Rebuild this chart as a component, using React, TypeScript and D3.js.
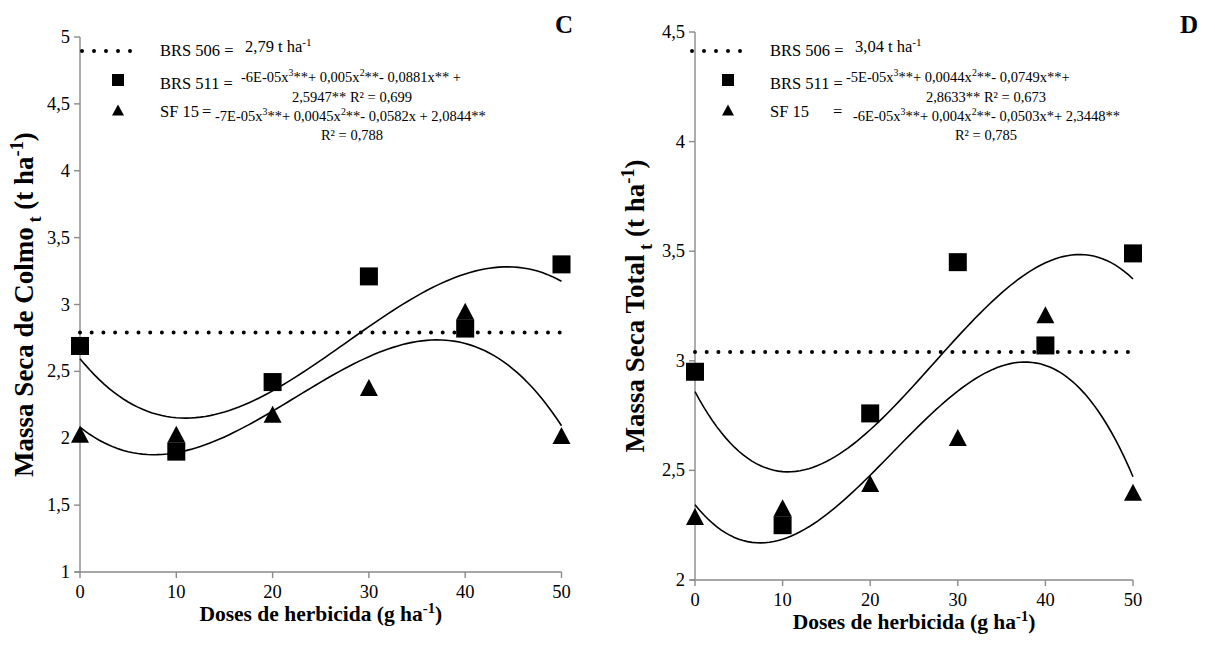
import React from "react";
import * as d3 from "d3";

// Herbicide doses (g ha-1)
const doses = [0, 10, 20, 30, 40, 50];

// Panel C: stalk dry mass (t ha-1)
const colmoBRS511 = [2.69, 1.9, 2.42, 3.21, 2.82, 3.3];
const colmoSF15 = [2.03, 2.03, 2.18, 2.38, 2.95, 2.02];
const colmoBRS506 = 2.79;
const colmoTicks = [1, 1.5, 2, 2.5, 3, 3.5, 4, 4.5, 5];

// Panel D: total dry mass (t ha-1)
const totalBRS511 = [2.95, 2.25, 2.76, 3.45, 3.07, 3.49];
const totalSF15 = [2.29, 2.33, 2.44, 2.65, 3.21, 2.4];
const totalBRS506 = 3.04;
const totalTicks = [2, 2.5, 3, 3.5, 4, 4.5];

const doseTicks = [0, 10, 20, 30, 40, 50];

type Seg = { t: string; sup?: boolean; sub?: boolean };

const colmoLegend = {
  mean: [{ t: "2,79 t ha" }, { t: "-1", sup: true }] as Seg[],
  eq511a: [
    { t: "-6E-05x" }, { t: "3", sup: true }, { t: "**+ 0,005x" }, { t: "2", sup: true },
    { t: "**- 0,0881x** +" },
  ] as Seg[],
  eq511b: [{ t: "2,5947** R² = 0,699" }] as Seg[],
  eqSFa: [
    { t: "-7E-05x" }, { t: "3", sup: true }, { t: "**+ 0,0045x" }, { t: "2", sup: true },
    { t: "**- 0,0582x + 2,0844**" },
  ] as Seg[],
  eqSFb: [{ t: "R² = 0,788" }] as Seg[],
};

const totalLegend = {
  mean: [{ t: "3,04 t ha" }, { t: "-1", sup: true }] as Seg[],
  eq511a: [
    { t: "-5E-05x" }, { t: "3", sup: true }, { t: "**+ 0,0044x" }, { t: "2", sup: true },
    { t: "**- 0,0749x**+" },
  ] as Seg[],
  eq511b: [{ t: "2,8633** R² = 0,673" }] as Seg[],
  eqSFa: [
    { t: "-6E-05x" }, { t: "3", sup: true }, { t: "**+ 0,004x" }, { t: "2", sup: true },
    { t: "**- 0,0503x*+ 2,3448**" },
  ] as Seg[],
  eqSFb: [{ t: "R² = 0,785" }] as Seg[],
};

const FONT = "'Liberation Serif', 'Times New Roman', serif";
const AXIS = "#8a8a8a";

// Least-squares cubic trend line
function cubicFit(xs: number[], ys: number[]): number[] {
  const n = 4;
  const A: number[][] = Array.from({ length: n }, () => new Array(n + 1).fill(0));
  xs.forEach((x, k) => {
    for (let i = 0; i < n; i++) {
      for (let j = 0; j < n; j++) A[i][j] += Math.pow(x, i + j);
      A[i][n] += Math.pow(x, i) * ys[k];
    }
  });
  for (let c = 0; c < n; c++) {
    let p = c;
    for (let r = c + 1; r < n; r++) if (Math.abs(A[r][c]) > Math.abs(A[p][c])) p = r;
    [A[c], A[p]] = [A[p], A[c]];
    for (let r = 0; r < n; r++) {
      if (r === c) continue;
      const f = A[r][c] / A[c][c];
      for (let k = c; k <= n; k++) A[r][k] -= f * A[c][k];
    }
  }
  return A.map((row, i) => row[n] / row[i]);
}

const fmt = (v: number) => String(v).replace(".", ",");

function Rich({ segs, x, y, size, anchor = "start", weight = "normal" }: {
  segs: Seg[]; x: number; y: number; size: number; anchor?: string; weight?: string;
}) {
  const out: React.ReactNode[] = [];
  let shift = 0;
  segs.forEach((s, i) => {
    const target = s.sup ? -0.38 * size : s.sub ? 0.3 * size : 0;
    out.push(
      <tspan key={i} dy={target - shift} fontSize={s.sup || s.sub ? size * 0.68 : size}>
        {s.t}
      </tspan>
    );
    shift = target;
  });
  return (
    <text x={x} y={y} textAnchor={anchor} style={{ fontFamily: FONT }} fontSize={size} fontWeight={weight} fill="#000">
      {out}
    </text>
  );
}

function Square({ cx, cy, s }: { cx: number; cy: number; s: number }) {
  return <rect x={cx - s / 2} y={cy - s / 2} width={s} height={s} fill="#000" />;
}
function Tri({ cx, cy, w, h }: { cx: number; cy: number; w: number; h: number }) {
  return <path d={`M${cx},${cy - h / 2}L${cx + w / 2},${cy + h / 2}L${cx - w / 2},${cy + h / 2}Z`} fill="#000" />;
}

type PanelProps = {
  xr: [number, number];
  yDomain: [number, number];
  yr: [number, number];
  yTicks: number[];
  s511: number[];
  sSF: number[];
  mean: number;
  legend: typeof colmoLegend;
  lx: number; // legend left
  sfEqX: number; // x of the "=" after SF 15
  eqA: number; // x of first equation line
  eqSF: number;
  eqCenter: number;
  letter: string;
  letterX: number;
  yTitle: Seg[];
  yTitleX: number;
  xLabelY: number;
  xTitleY: number;
};

function Panel(p: PanelProps) {
  const x = d3.scaleLinear().domain([0, 50]).range(p.xr);
  const y = d3.scaleLinear().domain(p.yDomain).range(p.yr);
  const grid = d3.range(0, 50.001, 0.5);
  const line = d3.line<number>().x((d) => x(d));
  const curve = (coef: number[]) =>
    line.y((d) => y(coef[0] + coef[1] * d + coef[2] * d * d + coef[3] * d * d * d))(grid) || "";
  const c511 = cubicFit(doses, p.s511);
  const cSF = cubicFit(doses, p.sSF);
  const [y0, y1] = p.yr;
  const lx = p.lx;
  const mx = lx - 42;
  const fs = 16.5;
  const fe = 14.5;
  return (
    <g>
      {/* axes */}
      <line x1={p.xr[0]} x2={p.xr[0]} y1={y0} y2={y1} stroke={AXIS} strokeWidth={1.4} />
      <line x1={p.xr[0] - 5} x2={p.xr[1]} y1={y0} y2={y0} stroke={AXIS} strokeWidth={1.4} />
      {p.yTicks.map((t) => (
        <g key={t}>
          <line x1={p.xr[0] - 6} x2={p.xr[0]} y1={y(t)} y2={y(t)} stroke={AXIS} strokeWidth={1.4} />
          <text x={p.xr[0] - 10} y={y(t) + 6} textAnchor="end" style={{ fontFamily: FONT }} fontSize={18.5}>
            {fmt(t)}
          </text>
        </g>
      ))}
      {doseTicks.map((t) => (
        <g key={t}>
          <line x1={x(t)} x2={x(t)} y1={y0} y2={y0 + 6} stroke={AXIS} strokeWidth={1.4} />
          <text x={x(t)} y={p.xLabelY} textAnchor="middle" style={{ fontFamily: FONT }} fontSize={18.5}>
            {t}
          </text>
        </g>
      ))}
      <Rich
        segs={[{ t: "Doses de herbicida (g ha" }, { t: "-1", sup: true }, { t: ")" }]}
        x={(p.xr[0] + p.xr[1]) / 2}
        y={p.xTitleY}
        size={21.5}
        anchor="middle"
        weight="bold"
      />
      <g transform={`translate(${p.yTitleX},${(y0 + y1) / 2}) rotate(-90)`}>
        <Rich segs={p.yTitle} x={0} y={0} size={27} anchor="middle" weight="bold" />
      </g>
      <text x={p.letterX} y={33} style={{ fontFamily: FONT }} fontSize={25} fontWeight="bold">
        {p.letter}
      </text>

      {/* BRS 506 mean */}
      <line
        x1={x(0)} x2={x(50)} y1={y(p.mean)} y2={y(p.mean)}
        stroke="#000" strokeWidth={4} strokeLinecap="round" strokeDasharray="0 11.7"
      />
      {/* trend lines */}
      <path d={curve(c511)} fill="none" stroke="#000" strokeWidth={1.6} />
      <path d={curve(cSF)} fill="none" stroke="#000" strokeWidth={1.6} />
      {doses.map((d, i) => (
        <Tri key={"t" + i} cx={x(d)} cy={y(p.sSF[i])} w={18} h={17} />
      ))}
      {doses.map((d, i) => (
        <Square key={"s" + i} cx={x(d)} cy={y(p.s511[i])} s={18} />
      ))}

      {/* legend */}
      <line
        x1={mx - 36} x2={mx + 24} y1={51} y2={51}
        stroke="#000" strokeWidth={4} strokeLinecap="round" strokeDasharray="0 12"
      />
      <Rich segs={[{ t: "BRS 506 =" }]} x={lx} y={56} size={fs} />
      <Rich segs={p.legend.mean} x={lx + 85} y={52} size={fs} />
      <Square cx={mx} cy={80} s={12} />
      <Rich segs={[{ t: "BRS 511 =" }]} x={lx} y={89} size={fs} />
      <Rich segs={p.legend.eq511a} x={p.eqA} y={82} size={fe} />
      <Rich segs={p.legend.eq511b} x={p.eqCenter} y={102} size={fe} anchor="middle" />
      <Tri cx={mx} cy={110} w={12} h={11} />
      <Rich segs={[{ t: "SF 15" }]} x={lx} y={117} size={fs} />
      <Rich segs={[{ t: "=" }]} x={p.sfEqX} y={117} size={fs} />
      <Rich segs={p.legend.eqSFa} x={p.eqSF} y={121} size={fe} />
      <Rich segs={p.legend.eqSFb} x={p.eqCenter} y={140} size={fe} anchor="middle" />
    </g>
  );
}

export default function App() {
  return (
    <svg width={1215} height={649} style={{ display: "block", position: "absolute", left: 0, top: 0, background: "#fff" }}>
      <rect width={1215} height={649} fill="#fff" />
      <Panel
        xr={[80, 561.5]}
        yDomain={[1, 5]}
        yr={[572, 37]}
        yTicks={colmoTicks}
        s511={colmoBRS511}
        sSF={colmoSF15}
        mean={colmoBRS506}
        legend={colmoLegend}
        lx={160}
        sfEqX={202}
        eqA={241}
        eqSF={215}
        eqCenter={352}
        letter="C"
        letterX={555}
        yTitle={[
          { t: "Massa Seca de Colmo" }, { t: " t", sub: true }, { t: " (t ha" },
          { t: "-1", sup: true }, { t: ")" },
        ]}
        yTitleX={33}
        xLabelY={598}
        xTitleY={621}
      />
      <Panel
        xr={[695, 1133]}
        yDomain={[2, 4.5]}
        yr={[580, 32]}
        yTicks={totalTicks}
        s511={totalBRS511}
        sSF={totalSF15}
        mean={totalBRS506}
        legend={totalLegend}
        lx={770}
        sfEqX={833}
        eqA={846}
        eqSF={853}
        eqCenter={986}
        letter="D"
        letterX={1180}
        yTitle={[
          { t: "Massa Seca Total" }, { t: " t", sub: true }, { t: " (t ha" },
          { t: "-1", sup: true }, { t: ")" },
        ]}
        yTitleX={644}
        xLabelY={606}
        xTitleY={629}
      />
    </svg>
  );
}
